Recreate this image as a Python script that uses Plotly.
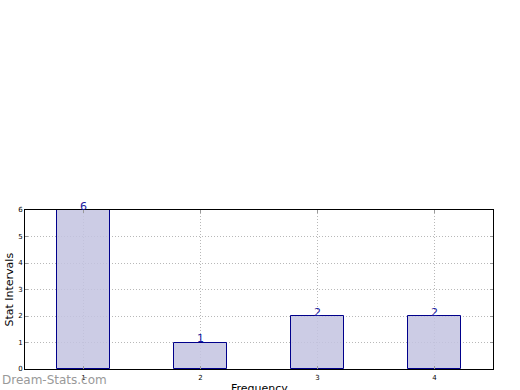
import plotly.graph_objects as go

categories = [1, 2, 3, 4]
values = [6, 1, 2, 2]
y_ticks = [0, 1, 2, 3, 4, 5, 6]

fig = go.Figure()
fig.add_trace(go.Bar(
    x=categories, y=values, width=0.45,
    marker=dict(color="rgba(195,195,224,0.85)", line=dict(color="#00008B", width=1)),
))
for c, v in zip(categories, values):
    fig.add_annotation(
        x=c, y=v, text=str(v), showarrow=False, yanchor="middle", yshift=4,
        font=dict(color="#1a1aa0", size=11, family="DejaVu Sans"),
    )
fig.update_layout(
    width=520, height=390,
    margin=dict(l=25, r=27, t=210, b=21),
    plot_bgcolor="white", paper_bgcolor="white",
    showlegend=False, bargap=0,
    font=dict(family="DejaVu Sans", color="black"),
)
grid = dict(showgrid=True, gridcolor="#b8b8b8", griddash="1px,2px", gridwidth=1,
            showline=True, linecolor="black", linewidth=1, mirror="ticks",
            ticks="inside", ticklen=3, tickcolor="#999", tickfont=dict(size=7),
            zeroline=False, layer="above traces", automargin=False)
fig.update_xaxes(
    range=[0.5, 4.5], tickvals=categories, ticktext=[str(c) for c in categories],
    ticklabelstandoff=2, **grid,
)
fig.update_yaxes(range=[0, 6], tickvals=y_ticks, **grid)
fig.add_annotation(
    text="Frequency", xref="paper", yref="paper", x=0.5, y=-0.125,
    xanchor="center", yanchor="middle", showarrow=False,
    font=dict(size=11, color="black", family="DejaVu Sans"),
)
fig.add_annotation(
    text="Stat Intervals", xref="paper", yref="paper", x=-0.034, y=0.5,
    xanchor="center", yanchor="middle", showarrow=False, textangle=-90,
    font=dict(size=11, color="black", family="DejaVu Sans"),
)
fig.add_annotation(
    text="Dream-Stats.com", xref="paper", yref="paper", x=-0.053, y=-0.069,
    xanchor="left", yanchor="middle", showarrow=False,
    font=dict(size=12, color="#999999", family="DejaVu Sans"),
)
fig.write_html("out.html", config={"displayModeBar": False},
               post_script="document.body.style.margin='0';")
